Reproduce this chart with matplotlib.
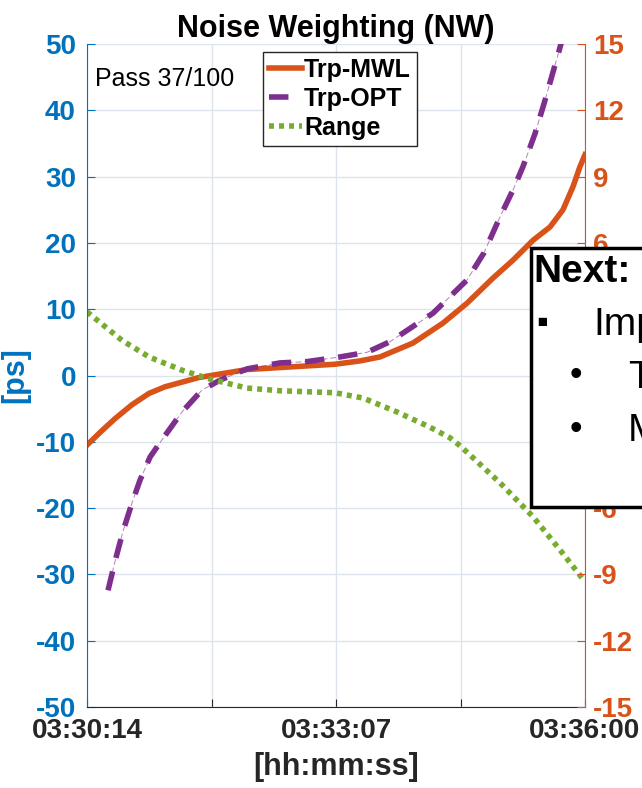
import numpy as np
import matplotlib
matplotlib.use('Agg')
import matplotlib.pyplot as plt
from matplotlib.patches import Rectangle

plt.rcParams['font.family'] = ['Liberation Sans', 'DejaVu Sans']
plt.rcParams['axes.unicode_minus'] = False

# time axis in seconds after 03:30:14
tick_pos = [0, 86.5, 173, 259.5, 346]
tick_labels = ['03:30:14', '', '03:33:07', '', '03:36:00']

# Trp-MWL [ps]
t_mwl = [0, 9.0, 19.5, 31.3, 43.1, 54.2, 66.0, 77.8, 91.7, 111.2, 134.1, 172.3,
         189.7, 203.6, 226.5, 247.3, 264.0, 282.1, 296.0, 309.9, 321.7, 330.7,
         337.7, 342.5, 346]
mwl = [-10.5, -8.6, -6.5, -4.4, -2.7, -1.7, -1.0, -0.3, 0.2, 0.9, 1.2, 1.7,
       2.2, 2.8, 4.9, 7.9, 10.9, 14.7, 17.4, 20.4, 22.4, 25.0,
       28.5, 31.5, 33.3]

# Trp-OPT [ps]
t_opt = [14.6, 19.5, 25.0, 31.3, 36.8, 43.8, 52.1, 66.0, 79.9, 92.4, 111.2,
         134.1, 152.9, 175.8, 194.5, 210.5, 226.5, 240.4, 264.0, 275.8, 286.9,
         296.0, 302.9, 311.3, 318.2, 329.3, 339.1]
opt = [-32.4, -28.0, -23.5, -19.2, -15.8, -12.3, -9.7, -5.5, -2.2, -0.7, 1.0,
       1.9, 2.1, 2.8, 3.5, 5.1, 7.4, 9.4, 14.4, 18.5, 23.9,
       28.0, 31.5, 36.5, 41.5, 50.0, 58.0]

# Range [ps]
t_rng = [0, 18.1, 24.3, 43.1, 66.0, 84.8, 111.2, 134.1, 172.3, 191.8, 215.4,
         238.3, 252.2, 259.2, 287.0, 309.9, 328.6, 346]
rng = [9.6, 6.4, 5.3, 2.8, 0.8, -0.5, -1.9, -2.3, -2.6, -3.4, -5.5,
       -7.8, -9.4, -10.6, -16.2, -21.3, -26.3, -31.1]

blue = '#0072BD'
orange = '#D95319'
purple = '#7E2F8E'
green = '#77AC30'

fig = plt.figure(figsize=(6.42, 7.88), dpi=100)
ax = fig.add_axes([87 / 642, 1 - 707 / 788, 498 / 642, 663 / 788])

ax.plot(t_mwl, mwl, color=orange, lw=4, label='Trp-MWL')
ax.plot(t_opt, opt, color=purple, lw=4, ls=(0, (3.5, 2.5)), label='Trp-OPT')
ax.plot(t_opt, opt, color=purple, lw=0.7, ls=(0, (6, 3)), alpha=0.6)
ax.plot(t_rng, rng, color=green, lw=4, ls=(0, (0.9, 0.9)), label='Range')

ax.set_xlim(0, 346)
ax.set_ylim(-50, 50)
ax.set_xticks(tick_pos)
ax.set_xticklabels(tick_labels)
ax.set_yticks(np.arange(-50, 51, 10))
ax.grid(True, color='#dde4ec', lw=1)
ax.set_axisbelow(True)

ax.tick_params(axis='x', direction='in', length=6, labelsize=20, colors='#262626', pad=8)
ax.tick_params(axis='y', direction='in', length=6, labelsize=20, colors=blue, pad=8)
for lab in ax.get_xticklabels() + ax.get_yticklabels():
    lab.set_fontweight('bold')

ax.spines['top'].set_visible(False)
ax.spines['left'].set_color(blue)
ax.spines['right'].set_visible(False)
ax.spines['bottom'].set_color('#262626')

ax.set_xlabel('[hh:mm:ss]', fontsize=22, fontweight='bold', color='#262626', labelpad=6)
ax.set_ylabel('[ps]', fontsize=22, fontweight='bold', color=blue)
ax.yaxis.set_label_coords(-0.114, 0.5)
ax.set_title('Noise Weighting (NW)', fontsize=22, fontweight='bold', pad=5)

ax2 = ax.twinx()
ax2.set_ylim(-15, 15)
ax2.set_yticks(np.arange(-15, 16, 3))
ax2.tick_params(axis='y', direction='in', length=6, labelsize=20, colors=orange, pad=6)
for lab in ax2.get_yticklabels():
    lab.set_fontweight('bold')
for s in ['top', 'left', 'bottom']:
    ax2.spines[s].set_visible(False)
ax2.spines['right'].set_color(orange)

ax.text(0.016, 0.965, 'Pass 37/100', transform=ax.transAxes, fontsize=18,
        ha='left', va='top')

leg = ax.legend(loc='upper left', bbox_to_anchor=(0.353, 0.988),
                prop={'weight': 'bold', 'size': 18}, frameon=True, fancybox=False,
                edgecolor='#262626', framealpha=1, handlelength=1.3,
                handletextpad=0.1, labelspacing=0.2, borderpad=0.25,
                borderaxespad=0)
leg.get_frame().set_linewidth(1)

# text box on the right edge
box = Rectangle((531 / 642, 1 - 507 / 788), 0.3, 259 / 788, transform=fig.transFigure,
                facecolor='white', edgecolor='black', lw=2.5, zorder=10)
fig.add_artist(box)
fig.text(533 / 642, 1 - 272 / 788, 'Next:', fontsize=28, fontweight='bold',
         ha='left', va='center', zorder=11)
fig.text(536 / 642, 1 - 323 / 788, '\u25aa', fontsize=24, ha='left', va='center', zorder=11)
fig.text(593 / 642, 1 - 325 / 788, 'Imp', fontsize=28, ha='left', va='center', zorder=11)
fig.text(570 / 642, 1 - 376 / 788, '\u2022', fontsize=26, ha='left', va='center', zorder=11)
fig.text(628 / 642, 1 - 378 / 788, 'T', fontsize=28, ha='left', va='center', zorder=11)
fig.text(570 / 642, 1 - 429 / 788, '\u2022', fontsize=26, ha='left', va='center', zorder=11)
fig.text(628 / 642, 1 - 431 / 788, 'M', fontsize=28, ha='left', va='center', zorder=11)

fig.savefig('out.png', dpi=100)
